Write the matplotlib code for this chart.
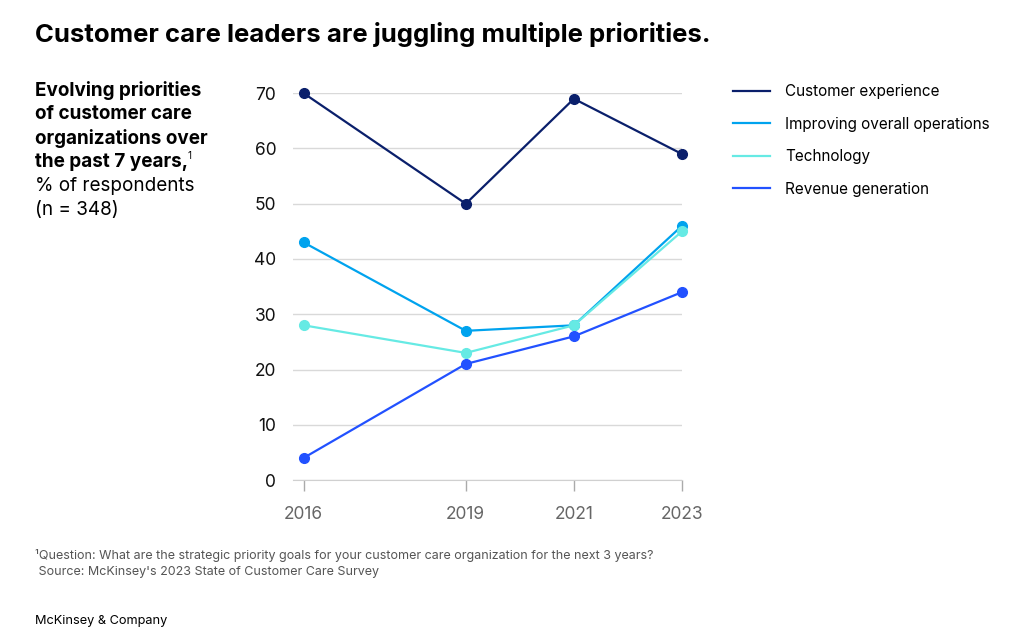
import matplotlib
matplotlib.use("Agg")
from matplotlib import pyplot as plt
from matplotlib.lines import Line2D

plt.rcParams['font.family'] = ['Inter', 'DejaVu Sans']

# Data
years = [2016, 2019, 2021, 2023]
series_names = ["Customer experience", "Improving overall operations",
                "Technology", "Revenue generation"]
customer_experience = [70, 50, 69, 59]
improving_operations = [43, 27, 28, 46]
technology = [28, 23, 28, 45]
revenue_generation = [4, 21, 26, 34]
yticks = [0, 10, 20, 30, 40, 50, 60, 70]

colors = ["#0A1F6B", "#00A3EE", "#66EAE4", "#2251FF"]
values = [customer_experience, improving_operations, technology, revenue_generation]

fig = plt.figure(figsize=(10.24, 6.33), dpi=100)
ax = fig.add_axes([0.286, 0.2417, 0.380, 0.611])

# draw technology first so ops sits on top like the original
order = [2, 3, 1, 0]
for i in order:
    ax.plot(years, values[i], color=colors[i], linewidth=1.6, marker="o",
            markersize=7, clip_on=False, zorder=3 + i)

ax.set_xlim(2015.8, 2023)
ax.set_ylim(0, 70)
ax.set_xticks(years)
ax.set_yticks(yticks)
ax.yaxis.grid(True, color="#d9d9d9", linewidth=1)
ax.set_axisbelow(True)
for s in ["top", "right", "left"]:
    ax.spines[s].set_visible(False)
ax.spines["bottom"].set_color("#d0d0d0")
ax.tick_params(axis="x", length=8, width=1, color="#aaaaaa", pad=11,
               labelsize=12.5, labelcolor="#666666")
ax.tick_params(axis="y", length=0, pad=12, labelsize=12.5, labelcolor="#111111")

# Legend
handles = [Line2D([0], [0], color=c, linewidth=1.6) for c in colors]
fig.legend(handles, series_names, loc="upper left", bbox_to_anchor=(0.710, 0.877),
           frameon=False, fontsize=11, handlelength=2.4, handletextpad=1.0,
           labelspacing=1.15, borderaxespad=0)

# Titles
fig.text(0.034, 0.945, "Customer care leaders are juggling multiple priorities.",
         fontsize=18.5, fontweight="bold", va="center", color="#000000")
bold_lines = ["Evolving priorities", "of customer care",
              "organizations over", "the past 7 years,"]
y0 = 1 - 90 / 633
for k, line in enumerate(bold_lines):
    fig.text(0.034, y0 - k * 24 / 633, line, fontsize=13.6, fontweight="bold",
             va="center", color="#000000")
fig.text(0.034 + 153 / 1024, y0 - 3 * 24 / 633 + 6 / 633, "1", fontsize=7,
         va="center", color="#000000")
for k, line in enumerate(["% of respondents", "(n = 348)"]):
    fig.text(0.034, y0 - (k + 4) * 24 / 633, line, fontsize=13.6,
             va="center", color="#000000")

# Footnotes
fig.text(0.034, 1 - 555 / 633,
         "\u00b9Question: What are the strategic priority goals for your customer care organization for the next 3 years?",
         fontsize=9, va="center", color="#555555")
fig.text(0.034, 1 - 572 / 633, " Source: McKinsey's 2023 State of Customer Care Survey",
         fontsize=9, va="center", color="#555555")
fig.text(0.034, 1 - 621 / 633, "McKinsey & Company", fontsize=9.2, va="center",
         color="#000000")

plt.savefig("out.png", dpi=100)
